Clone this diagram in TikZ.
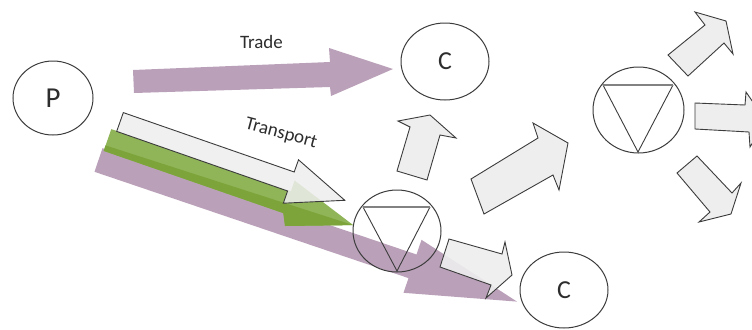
\documentclass[tikz,border=0pt]{standalone}
\usepackage{fontspec}
\setmainfont{Carlito}
\usetikzlibrary{shapes.geometric}
\definecolor{mauve}{RGB}{186,161,185}
\definecolor{leafgreen}{RGB}{143,181,88}
\definecolor{leafdark}{RGB}{124,164,58}
\definecolor{greyfill}{RGB}{238,238,238}
\definecolor{outline}{RGB}{60,60,60}
\definecolor{topline}{RGB}{130,130,130}
\definecolor{inkgrey}{RGB}{45,45,45}
\tikzset{
  blockarrow/.style={fill=greyfill, draw=outline, line width=0.9bp, line join=miter},
  flowarrow/.style={fill=mauve, draw=none},
  ring/.style={ellipse, draw=outline, line width=1bp, inner sep=0pt, text=inkgrey},
  tri/.style={draw=outline, line width=0.9bp, line join=miter},
  triline/.style={draw=topline, line width=1.1bp},
  label/.style={text=inkgrey, inner sep=0pt, font=\fontsize{19}{19}\selectfont}
}
\begin{document}
\begin{tikzpicture}[x=1bp,y=-1bp]
\useasboundingbox (0,0) rectangle (752,329);
\clip (0,0) rectangle (752,329);
\fill[white] (0,0) rectangle (752,329);

% trade flow
\fill[flowarrow] (133,70) -- (330,62) -- (329,48) -- (393,69) -- (331,96) -- (330,87) -- (134,93) -- cycle;
% transport flow (purple)
\fill[flowarrow] (102.5,148.2) -- (416.5,254.5) -- (421.5,239.8) -- (517,301.6) -- (403.5,292.8) -- (408.5,278.1) -- (94.5,171.8) -- cycle;
% green flow
\fill[leafgreen] (111.3,129.1) -- (290.9,191.3) -- (294.6,180.5) -- (353.2,225.1) -- (285,226) -- (283.3,213.1) -- (103.7,150.9) -- cycle;
\begin{scope}
\clip (111.3,129.1) -- (290.9,191.3) -- (294.6,180.5) -- (353.2,225.1) -- (285,226) -- (283.3,213.1) -- (103.7,150.9) -- cycle;
\fill[leafdark] (98,143) -- (353.2,225.1) -- (360,260) -- (90,200) -- cycle;
\end{scope}
% white transport arrow
\filldraw[fill=greyfill, fill opacity=0.85, draw=outline, line width=0.9bp, line join=miter]
  (123.3,112.6) -- (294.2,172.0) -- (298.5,159.8) -- (344.8,200.3) -- (283.3,203.2) -- (287.6,191.0) -- (116.7,131.4) -- cycle;

% labels
\node[label] (trade) at (261.5,42) {Trade};
\node[label, rotate=-15] (transport) at (281,134) {Transport};

% nodes
\node[ring, minimum width=80bp, minimum height=74bp, font=\fontsize{29}{29}\selectfont] (P) at (53,98) {P};
\node[ring, minimum width=88bp, minimum height=77bp, font=\fontsize{26}{26}\selectfont] (C1) at (445,61.5) {C};
\node[ring, minimum width=88bp, minimum height=76bp, font=\fontsize{26}{26}\selectfont] (C2) at (564,290) {C};
\node[ring, minimum width=88bp, minimum height=82bp] (M) at (397,231) {};
\node[ring, minimum width=91bp, minimum height=86bp] (R) at (638.5,110) {};
\draw[tri] (430,207) -- (397,271) -- (363,207);
\draw[triline] (363,207) -- (430,207);
\draw[tri] (673,85) -- (638,152) -- (603,85);
\draw[triline] (603,85) -- (673,85);

% grey block arrows
\filldraw[blockarrow] (397,171) -- (410,127) -- (398,121) -- (430,115) -- (456,138) -- (440,135) -- (427,180) -- cycle;
\filldraw[blockarrow] (471,179) -- (538,138) -- (533,123) -- (568,143) -- (559,190) -- (553,175) -- (484,214) -- cycle;
\filldraw[blockarrow, fill opacity=0.9] (449,239) -- (502,254) -- (505,242) -- (512,275) -- (486,298) -- (491,285) -- (440,267) -- cycle;
\filldraw[blockarrow] (668,55) -- (705,25) -- (695,12) -- (726,21) -- (733,54) -- (724,43) -- (688,76) -- cycle;
\filldraw[blockarrow] (695,103) -- (745,105) -- (746,92) -- (766,121) -- (750,147) -- (749,132) -- (695,129) -- cycle;
\filldraw[blockarrow] (697,156) -- (732,193) -- (741,183) -- (731,214) -- (699,222) -- (710,212) -- (677,173) -- cycle;
\end{tikzpicture}
\end{document}
